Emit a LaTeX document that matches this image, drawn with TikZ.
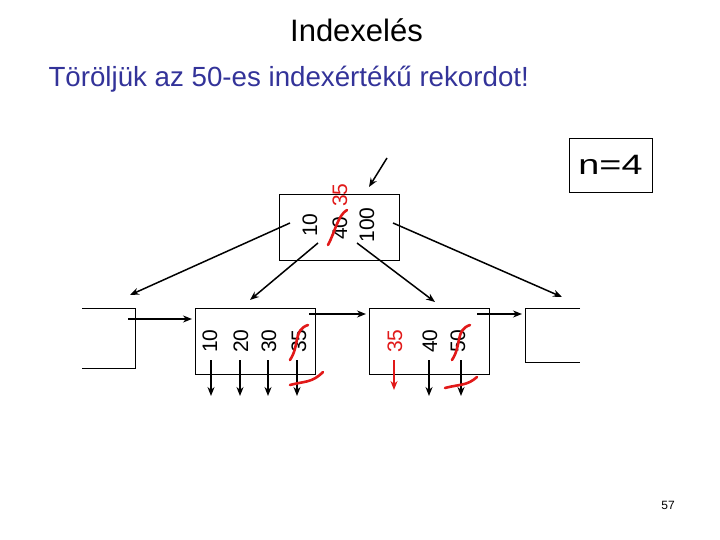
\documentclass[tikz,border=0pt]{standalone}
\usepackage{fontspec}
\setmainfont{Liberation Sans}
\usetikzlibrary{arrows.meta,positioning}
\definecolor{slideblue}{RGB}{51,51,153}
\definecolor{redpen}{RGB}{225,25,25}
\begin{document}
\begin{tikzpicture}[x=1pt,y=-1pt,>={Stealth[length=9pt,width=7pt]},
  box/.style={draw,line width=0.9pt,minimum width=120pt,minimum height=66pt,inner sep=0pt},
  key/.style={rotate=90,inner sep=0pt,font=\fontsize{21}{25}\selectfont},
  newkey/.style={key,text=redpen},
  ptr/.style={->,line width=1.5pt},
  cross/.style={draw=redpen,line width=2.6pt,line cap=round}]
\useasboundingbox (0,0) rectangle (720,540);
\node[anchor=base,font=\fontsize{31}{36}\selectfont] (title) at (356.5,42) {Indexelés};
\node[anchor=base west,text=slideblue,font=\fontsize{27.7}{32}\selectfont] (task) at (45,87)
  {Töröljük az 50-es indexértékű rekordot!};
\node[draw,line width=0.9pt,minimum width=83pt,minimum height=54pt,
  font=\fontsize{28}{32}\selectfont] (order) at (610.5,165) {\scalebox{1.35}[1]{n=4}};
\node[font=\fontsize{12}{14}\selectfont] (pageno) at (668,505) {57};
% root
\node[box] (root) at (339,227) {};
\node[key] (r10) at (310,225) {10};
\node[key] (r40) at (340,228) {40};
\node[key] (r100) at (367,225) {100};
\node[newkey] (r35) at (340,195) {35};
% leaves
\node[box] (leafa) at (255,341) {};
\node[box] (leafb) at (429,341) {};
\node[key] (a10) at (210,341) {10};
\node[key] (a20) at (241,341) {20};
\node[key] (a30) at (269,341) {30};
\node[key] (a35) at (299,341) {35};
\node[newkey] (b35) at (395,341) {35};
\node[key] (b40) at (430,341) {40};
\node[key] (b50) at (458,341) {50};
% neighbour leaves, only partly shown
\draw[line width=0.9pt] (82,308) -- (135,308) -- (135,368) -- (82,368);
\draw[line width=0.9pt] (580,308) -- (525,308) -- (525,362) -- (580,362);
\coordinate (left) at (130,295);
\coordinate (right) at (562,297);
\coordinate (leftin) at (128,319);
\coordinate (rightin) at (522,314);
% pointers of the root
\coordinate (parent) at (387,158);
\coordinate (rootin) at (369,187);
\coordinate (rp0) at (290,223);
\coordinate (rp1) at (318,243);
\coordinate (rp2) at (357,243);
\coordinate (rp3) at (393,223);
\coordinate (ain) at (250,300);
\coordinate (bin) at (435,302);
\draw[ptr] (parent) -- (rootin);
\draw[ptr] (rp0) -- (left);
\draw[ptr] (rp1) -- (ain);
\draw[ptr] (rp2) -- (bin);
\draw[ptr] (rp3) -- (right);
% chain of the leaves
\coordinate (anext) at (309,314);
\coordinate (bprev) at (366,314);
\coordinate (bnext) at (477,314);
\coordinate (aprev) at (192,319);
\draw[ptr] (leftin) -- (aprev);
\draw[ptr] (anext) -- (bprev);
\draw[ptr] (bnext) -- (rightin);
% record pointers
\foreach \x/\k in {211/a10,240/a20,268/a30,297/a35,429/b40,461/b50}{
  \coordinate (p\k) at (\x,360);
  \coordinate (q\k) at (\x,396);
  \draw[ptr] (p\k) -- (q\k);
}
\coordinate (pb35) at (394,360);
\coordinate (qb35) at (394,390);
\draw[ptr,redpen] (pb35) -- (qb35);
% deletions
\draw[cross] (328,245) .. controls (335,232) and (338,215) .. (347,210);
\draw[cross] (290,360) .. controls (300,345) and (293,330) .. (308,325);
\draw[cross] (290,385) .. controls (305,381) and (312,383) .. (323,372);
\draw[cross] (452,360) .. controls (462,345) and (455,330) .. (470,325);
\draw[cross] (445,388) .. controls (460,384) and (467,386) .. (477,377);
\end{tikzpicture}
\end{document}
